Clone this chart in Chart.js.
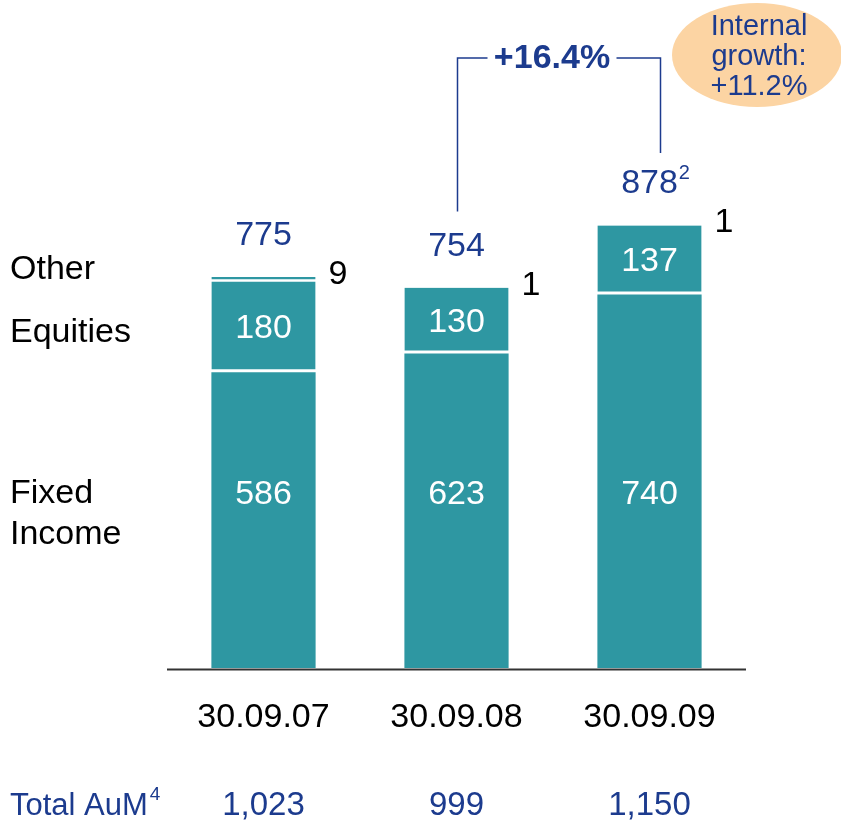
<!DOCTYPE html>
<html>
<head>
<meta charset="utf-8">
<script src="https://cdn.jsdelivr.net/npm/chart.js@4.4.1/dist/chart.umd.min.js"></script>
<style>
  body { margin: 0; background: #fff; }
  canvas { display: block; }
</style>
</head>
<body>
<canvas id="aumChart" width="841" height="825"></canvas>
<script>
const dates = ['30.09.07', '30.09.08', '30.09.09'];
const fixedIncome = [586, 623, 740];
const equities = [180, 130, 137];
const other = [9, 1, 1];
const totalAuM = ['1,023', '999', '1,150'];
const totalNotes = ['', '', '2'];
const growthText = '+16.4%';
const internalGrowth = ['Internal', 'growth:', '+11.2%'];
const rowLabels = ['Other', 'Equities', 'Fixed', 'Income'];

const teal = '#2e97a2';
const navy = '#1c3b8e';
const font = '"Liberation Sans", Arial, sans-serif';

const sums = fixedIncome.map((v, i) => v + equities[i] + other[i]);

const segBorder = { top: 0, left: 0, right: 0, bottom: 3 };

var annotations = {
  id: 'annotations',
  afterDatasetsDraw(chart) {
    const ctx = chart.ctx;
    const area = chart.chartArea;
    const y = chart.scales.y;
    const fiBars = chart.getDatasetMeta(0).data;
    const eqBars = chart.getDatasetMeta(1).data;
    const otBars = chart.getDatasetMeta(2).data;

    ctx.save();

    // baseline
    ctx.strokeStyle = '#333';
    ctx.lineWidth = 2;
    ctx.beginPath();
    ctx.moveTo(area.left, area.bottom + 1.5);
    ctx.lineTo(area.right, area.bottom + 1.5);
    ctx.stroke();

    ctx.textBaseline = 'middle';

    // values inside the bars
    ctx.fillStyle = '#fff';
    ctx.textAlign = 'center';
    ctx.font = '34px ' + font;
    fiBars.forEach((bar, i) => {
      ctx.fillText(fixedIncome[i], bar.x, 495);
      const eq = eqBars[i];
      ctx.fillText(equities[i], eq.x, (eq.y + eq.base) / 2 + 2);
    });

    // "other" values to the right of each bar
    ctx.fillStyle = '#000';
    ctx.textAlign = 'left';
    otBars.forEach((bar, i) => {
      ctx.fillText(other[i], bar.x + bar.width / 2 + 13, bar.y - 2);
    });

    // totals above the bars
    ctx.fillStyle = navy;
    sums.forEach((s, i) => {
      const px = chart.scales.x.getPixelForValue(i);
      const py = y.getPixelForValue(s) - 41;
      ctx.font = '34px ' + font;
      ctx.textAlign = 'center';
      ctx.fillText(s, px, py);
      if (totalNotes[i]) {
        const w = ctx.measureText(String(s)).width;
        ctx.font = '20px ' + font;
        ctx.textAlign = 'left';
        ctx.fillText(totalNotes[i], px + w / 2 + 1, py - 10);
      }
    });

    // row labels on the left
    ctx.fillStyle = '#000';
    ctx.textAlign = 'left';
    ctx.font = '34px ' + font;
    ctx.fillText(rowLabels[0], 10, 270);
    ctx.fillText(rowLabels[1], 10, 333);
    ctx.fillText(rowLabels[2], 10, 494);
    ctx.fillText(rowLabels[3], 10, 535);

    // dates under the axis
    ctx.textAlign = 'center';
    ctx.font = '34px ' + font;
    dates.forEach((d, i) => {
      ctx.fillText(d, chart.scales.x.getPixelForValue(i), 718);
    });

    // total AuM row
    ctx.fillStyle = navy;
    ctx.textAlign = 'left';
    ctx.font = '31px ' + font;
    ctx.fillText('Total AuM', 10, 806);
    const tw = ctx.measureText('Total AuM').width;
    ctx.font = '19px ' + font;
    ctx.fillText('4', 10 + tw + 2, 795);
    ctx.textAlign = 'center';
    ctx.font = '33px ' + font;
    totalAuM.forEach((t, i) => {
      ctx.fillText(t, chart.scales.x.getPixelForValue(i), 806);
    });

    // growth bracket between 2008 and 2009
    const x1 = chart.scales.x.getPixelForValue(1) + 1;
    const x2 = chart.scales.x.getPixelForValue(2) + 11;
    const top = 58;
    ctx.strokeStyle = navy;
    ctx.lineWidth = 1.5;
    ctx.beginPath();
    ctx.moveTo(x1, y.getPixelForValue(sums[1]) - 76);
    ctx.lineTo(x1, top);
    ctx.lineTo(x1 + 30, top);
    ctx.moveTo(x2 - 44, top);
    ctx.lineTo(x2, top);
    ctx.lineTo(x2, y.getPixelForValue(sums[2]) - 72);
    ctx.stroke();
    ctx.font = 'bold 34px ' + font;
    ctx.textAlign = 'center';
    ctx.fillText(growthText, (x1 + 30 + x2 - 44) / 2, top + 1);

    // internal growth bubble
    ctx.fillStyle = '#fcd4a3';
    ctx.beginPath();
    ctx.ellipse(757, 55, 85, 52, 0, 0, Math.PI * 2);
    ctx.fill();
    ctx.fillStyle = navy;
    ctx.font = '29px ' + font;
    internalGrowth.forEach((line, i) => {
      ctx.fillText(line, 759, 27 + i * 30);
    });

    ctx.restore();
  }
};

const ctx = document.getElementById('aumChart').getContext('2d');

new Chart(ctx, {
  type: 'bar',
  data: {
    labels: dates,
    datasets: [
      { label: 'Fixed Income', data: fixedIncome, backgroundColor: teal, borderWidth: 0 },
      { label: 'Equities', data: equities, backgroundColor: teal, borderColor: '#fff',
        borderWidth: segBorder, borderSkipped: false },
      { label: 'Other', data: other, backgroundColor: teal, borderColor: '#fff',
        borderWidth: segBorder, borderSkipped: false }
    ]
  },
  options: {
    responsive: false,
    animation: false,
    layout: { padding: { left: 167, right: 95, top: 12, bottom: 157 } },
    datasets: { bar: { barPercentage: 0.54, categoryPercentage: 1 } },
    plugins: { legend: { display: false }, tooltip: { enabled: false } },
    scales: {
      x: { stacked: true, display: false },
      y: { stacked: true, display: false, min: 0, max: 1300 }
    }
  },
  plugins: [annotations]
});
</script>
</body>
</html>
